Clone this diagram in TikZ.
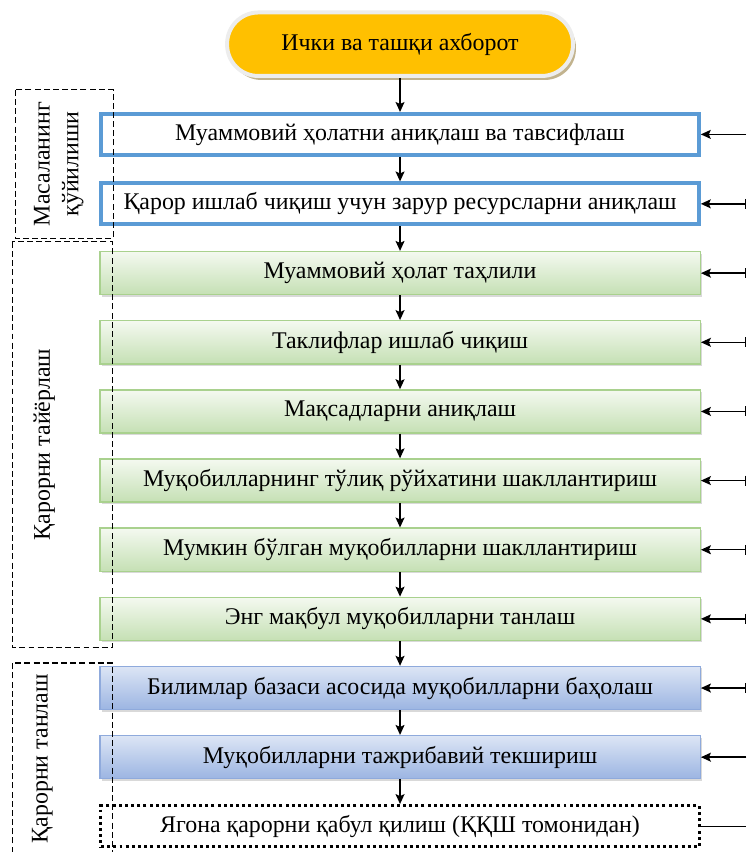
\documentclass[tikz,border=0pt]{standalone}
\usepackage{fontspec}
\setmainfont{Liberation Serif}
\usepackage{xcolor}
\usepackage{tikz}
\usetikzlibrary{calc,positioning,arrows.meta,shadows}

\definecolor{goldfill}{HTML}{FFC000}
\definecolor{tanshadow}{HTML}{C2B38E}
\definecolor{bluedraw}{HTML}{5B9BD5}
\definecolor{greendraw}{HTML}{A9D18E}
\definecolor{greentop}{HTML}{F4F9F0}
\definecolor{greenbot}{HTML}{C5E0B4}
\definecolor{steeldraw}{HTML}{8FAADC}
\definecolor{steeltop}{HTML}{DCE5F5}
\definecolor{steelbot}{HTML}{9CB5E2}

\begin{document}
\begin{tikzpicture}[font=\fontsize{12}{14}\selectfont, node distance=0.435cm,
    framebox/.style={draw=bluedraw, line width=2pt, fill=white, minimum width=10.54cm, minimum height=0.72cm},
    greenbox/.style={draw=greendraw, line width=0.7pt, top color=greentop, bottom color=greenbot, minimum width=10.59cm, minimum height=0.76cm, drop shadow={shadow xshift=1pt, shadow yshift=-1pt, opacity=0.3}},
    steelbox/.style={draw=steeldraw, line width=0.7pt, top color=steeltop, bottom color=steelbot, minimum width=10.59cm, minimum height=0.76cm, drop shadow={shadow xshift=1pt, shadow yshift=-1pt, opacity=0.3}},
    dotbox/.style={draw=black, line width=1.5pt, dash pattern=on 1.5pt off 1.6pt, fill=white, minimum width=10.55cm, minimum height=0.73cm},
    group/.style={draw, line width=0.6pt, dash pattern=on 3pt off 1.6pt},
    down/.style={-{Stealth[length=5pt,width=4.5pt,inset=1pt]}, line width=0.7pt},
    feed/.style={-{Stealth[length=5pt,width=4.5pt,inset=1pt]}, line width=0.7pt},
    barfeed/.style={{Bar[width=5pt]}-{Stealth[length=5pt,width=4.5pt,inset=1pt]}, line width=0.7pt}]

    \useasboundingbox (0,0) rectangle (13.176,-15.028);

    \node [draw=white!93!black, line width=2pt, fill=goldfill, rounded corners=0.55cm, minimum width=6.1cm, minimum height=1.12cm, drop shadow={shadow xshift=1.5pt, shadow yshift=-2pt, fill=tanshadow, opacity=1}] (info) at (7.056,-0.78) {Ички ва ташқи ахборот};

    \node [framebox, below=0.6cm of info] (describe) {Муаммовий ҳолатни аниқлаш ва тавсифлаш};
    \node [framebox, below=of describe] (resources) {Қарор ишлаб чиқиш учун зарур ресурсларни аниқлаш};

    \node [greenbox, below=of resources] (analysis) {Муаммовий ҳолат таҳлили};
    \node [greenbox, below=of analysis] (proposals) {Таклифлар ишлаб чиқиш};
    \node [greenbox, below=of proposals] (goals) {Мақсадларни аниқлаш};
    \node [greenbox, below=of goals] (fulllist) {Муқобилларнинг тўлиқ рўйхатини шакллантириш};
    \node [greenbox, below=of fulllist] (feasible) {Мумкин бўлган муқобилларни шакллантириш};
    \node [greenbox, below=of feasible] (best) {Энг мақбул муқобилларни танлаш};

    \node [steelbox, below=of best] (assess) {Билимлар базаси асосида муқобилларни баҳолаш};
    \node [steelbox, below=of assess] (verify) {Муқобилларни тажрибавий текшириш};

    \node [dotbox, below=of verify] (accept) {Ягона қарорни қабул қилиш (ҚҚШ томонидан)};

    \draw[down] (info) -- (describe);
    \draw[down] (describe) -- (resources);
    \draw[down] (resources) -- (analysis);
    \draw[down] (analysis) -- (proposals);
    \draw[down] (proposals) -- (goals);
    \draw[down] (goals) -- (fulllist);
    \draw[down] (fulllist) -- (feasible);
    \draw[down] (feasible) -- (best);
    \draw[down] (best) -- (assess);
    \draw[down] (assess) -- (verify);
    \draw[down] (verify) -- (accept);

    % inputs from the right edge
    \coordinate (in1) at ($(describe.east)+(0.80,0)$);
    \coordinate (in2) at ($(resources.east)+(0.80,0)$);
    \coordinate (in3) at ($(analysis.east)+(0.80,0)$);
    \coordinate (in4) at ($(proposals.east)+(0.80,0)$);
    \coordinate (in5) at ($(goals.east)+(0.80,0)$);
    \coordinate (in6) at ($(fulllist.east)+(0.80,0)$);
    \coordinate (in7) at ($(feasible.east)+(0.80,0)$);
    \coordinate (in8) at ($(best.east)+(0.80,0)$);
    \coordinate (in9) at ($(assess.east)+(0.80,0)$);
    \coordinate (in10) at ($(verify.east)+(0.80,0)$);
    \coordinate (in11) at ($(accept.east)+(0.80,0)$);

    \draw[feed] (in1) -- (describe);
    \draw[barfeed] (in2) -- (resources);
    \draw[barfeed] (in3) -- (analysis);
    \draw[barfeed] (in4) -- (proposals);
    \draw[barfeed] (in5) -- (goals);
    \draw[barfeed] (in6) -- (fulllist);
    \draw[barfeed] (in7) -- (feasible);
    \draw[barfeed] (in8) -- (best);
    \draw[barfeed] (in9) -- (assess);
    \draw[feed] (in10) -- (verify);
    \draw[line width=0.7pt] (in11) -- (accept);

    % stage frames
    \coordinate (g1nw) at ($(describe.north west)+(-1.48,0.39)$);
    \coordinate (g1se) at ($(resources.south west)+(0.25,-0.21)$);
    \draw[group] (g1nw) rectangle (g1se);
    \node [rotate=90, align=center, font=\fontsize{12}{14.5}\selectfont] (stage1) at ($($(g1nw)!0.5!(g1se)$)+(-0.1,0)$) {Масаланинг\\қўйилиши};

    \coordinate (g2nw) at ($(analysis.north west)+(-1.53,0.16)$);
    \coordinate (g2se) at ($(best.south west)+(0.23,-0.11)$);
    \draw[group] (g2nw) rectangle (g2se);
    \node [rotate=90] (stage2) at ($($(g2nw)!0.5!(g2se)$)+(-0.32,0)$) {Қарорни тайёрлаш};

    \coordinate (g3nw) at ($(assess.north west)+(-1.53,0.05)$);
    \coordinate (g3ne) at ($(assess.north west)+(0.23,0.05)$);
    \coordinate (pagefoot) at (0,-15.2);
    \draw[group] (g3nw |- pagefoot) -- (g3nw) -- (g3ne) -- (g3ne |- pagefoot);
    \node [rotate=90] (stage3) at ($(g3nw)+(0.53,-1.69)$) {Қарорни танлаш};

\end{tikzpicture}
\end{document}
